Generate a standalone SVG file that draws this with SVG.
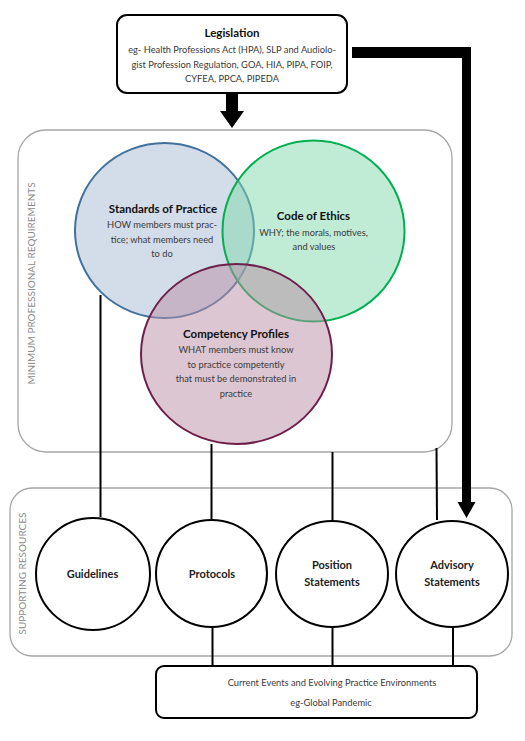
<svg xmlns="http://www.w3.org/2000/svg" width="525" height="741" viewBox="0 0 525 741">
<style>
text{font-family:Lato,"Open Sans","Liberation Sans",sans-serif;text-anchor:middle;}
.t{font-weight:bold;font-size:11.5px;fill:#111;}
.b{font-size:9.3px;fill:#3a3a3a;}
.side{font-size:10px;fill:#8a8a8a;}
.grp{fill:none;stroke:#a6a6a6;stroke-width:1.3;}
.node{fill:#fff;stroke:#000;stroke-width:2;}
.con{stroke:#000;stroke-width:2;fill:none;}
.rt{font-weight:bold;font-size:11px;fill:#222;}
</style>
<rect width="525" height="741" fill="#fff"/>
<g id="group-minimum">
<rect class="grp" x="18" y="130" width="434" height="322" rx="28"/>
<text class="side" transform="translate(34.5,283.5) rotate(-90)">MINIMUM PROFESSIONAL REQUIREMENTS</text>
</g>
<g id="group-supporting">
<rect class="grp" x="10" y="488" width="502" height="168" rx="22"/>
<text class="side" transform="translate(26,573.5) rotate(-90)">SUPPORTING RESOURCES</text>
</g>
<g id="connectors">
<line class="con" x1="100.5" y1="295" x2="100.5" y2="517"/>
<line class="con" x1="211.5" y1="444" x2="211.5" y2="519"/>
<line class="con" x1="332.5" y1="452" x2="332.5" y2="520"/>
<line class="con" x1="436.5" y1="448" x2="437" y2="520"/>
<line class="con" x1="212.5" y1="627" x2="212.5" y2="667"/>
<line class="con" x1="332.5" y1="627" x2="332.5" y2="667"/>
<line class="con" x1="453" y1="627" x2="453" y2="667"/>
<polygon points="226,93 238,93 238,111 244,111 232,128 220,111 226,111" fill="#000"/>
<polygon points="352,47 471,47 471,502 475.5,502 466.5,518 457.5,502 462,502 462,58 352,58" fill="#000"/>
</g>
<g id="legislation">
<rect x="117" y="15" width="230" height="78" rx="10" fill="#fff" stroke="#000" stroke-width="2"/>
<text class="t" x="232" y="37">Legislation</text>
<text class="b" x="232" y="53">eg- Health Professions Act (HPA), SLP and Audiolo-</text>
<text class="b" x="232" y="67.5">gist Profession Regulation, GOA, HIA, PIPA, FOIP,</text>
<text class="b" x="232" y="82">CYFEA, PPCA, PIPEDA</text>
</g>
<g id="standards">
<ellipse cx="164.5" cy="230.5" rx="89.5" ry="87.5" fill="#a7bbd3" fill-opacity="0.5" stroke="#41719c" stroke-width="2"/>
</g>
<g id="ethics">
<ellipse cx="313.5" cy="231" rx="91" ry="90.5" fill="#81d7ab" fill-opacity="0.5" stroke="#00b050" stroke-width="2"/>
</g>
<g id="competency">
<ellipse cx="236.5" cy="354" rx="95.5" ry="90" fill="#b98da5" fill-opacity="0.5" stroke="#6e1f4a" stroke-width="2"/>
</g>
<g id="venn-labels">
<text class="t" x="163" y="213">Standards of Practice</text>
<text class="b" x="162" y="228">HOW members must prac-</text>
<text class="b" x="162" y="243">tice; what members need</text>
<text class="b" x="162" y="257">to do</text>
<text class="t" x="313.5" y="220">Code of Ethics</text>
<text class="b" x="313.5" y="236">WHY; the morals, motives,</text>
<text class="b" x="314" y="250">and values</text>
<text class="t" x="236" y="338">Competency Profiles</text>
<text class="b" x="236" y="353">WHAT members must know</text>
<text class="b" x="236" y="368">to practice competently</text>
<text class="b" x="236" y="382">that must be demonstrated in</text>
<text class="b" x="236" y="397">practice</text>
</g>
<g id="guidelines">
<ellipse class="node" cx="93" cy="574" rx="57" ry="56"/>
<text class="rt" x="92.5" y="578">Guidelines</text>
</g>
<g id="protocols">
<ellipse class="node" cx="211.5" cy="573.5" rx="55.5" ry="53.5"/>
<text class="rt" x="212" y="578">Protocols</text>
</g>
<g id="position">
<ellipse class="node" cx="332" cy="574" rx="56" ry="53"/>
<text class="rt" x="332" y="569">Position</text>
<text class="rt" x="332" y="586">Statements</text>
</g>
<g id="advisory">
<ellipse class="node" cx="452" cy="574" rx="56" ry="53"/>
<text class="rt" x="452" y="569">Advisory</text>
<text class="rt" x="452" y="586">Statements</text>
</g>
<g id="current-events">
<rect x="156" y="666" width="321" height="52" rx="8" fill="#fff" stroke="#000" stroke-width="2"/>
<text class="b" x="332" y="686">Current Events and Evolving Practice Environments</text>
<text class="b" x="331" y="706">eg-Global Pandemic</text>
</g>
</svg>
